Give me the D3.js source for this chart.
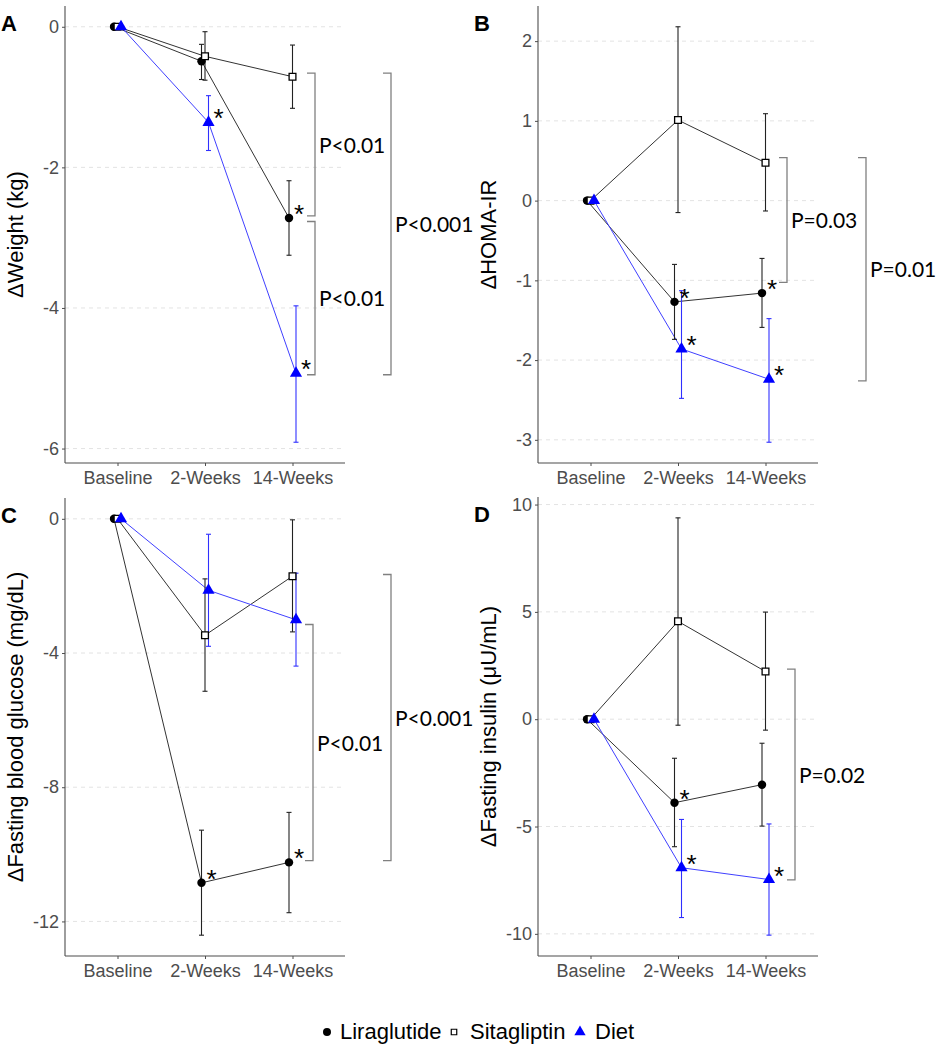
<!DOCTYPE html>
<html><head><meta charset="utf-8">
<script src="https://cdn.jsdelivr.net/npm/d3@7"></script>
<style>body{margin:0;background:#fff} svg{display:block}</style>
</head><body><svg id="c" width="947" height="1050"></svg>
<script>
// ---------- DATA ----------
const categories = ["Baseline", "2-Weeks", "14-Weeks"];
const seriesNames = ["Liraglutide", "Sitagliptin", "Diet"];

// Panel A: ΔWeight (kg)
const weightLiraMean = [0, -0.49, -2.72], weightLiraLow = [0, -0.75, -3.25], weightLiraHigh = [0, -0.25, -2.19];
const weightSitaMean = [0, -0.42, -0.71], weightSitaLow = [0, -0.76, -1.16], weightSitaHigh = [0, -0.07, -0.26];
const weightDietMean = [0, -1.36, -4.93], weightDietLow = [0, -1.76, -5.91], weightDietHigh = [0, -0.98, -3.97];
const weightTicks = [0, -2, -4, -6];
const weightStars = [[2], [], [1, 2]];
const weightBrackets = [
  { from: -0.66, to: -2.69, label: "P<0.01", level: 0 },
  { from: -2.77, to: -4.95, label: "P<0.01", level: 0 },
  { from: -0.66, to: -4.95, label: "P<0.001", level: 1 }
];

// Panel B: ΔHOMA-IR
const homaLiraMean = [0, -1.27, -1.16], homaLiraLow = [0, -1.74, -1.59], homaLiraHigh = [0, -0.80, -0.725];
const homaSitaMean = [0, 1.01, 0.475], homaSitaLow = [0, -0.15, -0.13], homaSitaHigh = [0, 2.18, 1.09];
const homaDietMean = [0, -1.86, -2.24], homaDietLow = [0, -2.48, -3.03], homaDietHigh = [0, -1.13, -1.48];
const homaTicks = [2, 1, 0, -1, -2, -3];
const homaStars = [[1, 2], [], [1, 2]];
const homaBrackets = [
  { from: 0.54, to: -1.025, label: "P=0.03", level: 0 },
  { from: 0.54, to: -2.26, label: "P=0.01", level: 1 }
];

// Panel C: ΔFasting blood glucose (mg/dL)
const glucLiraMean = [0, -10.85, -10.24], glucLiraLow = [0, -12.41, -11.74], glucLiraHigh = [0, -9.28, -8.75];
const glucSitaMean = [0, -3.47, -1.71], glucSitaLow = [0, -5.14, -3.37], glucSitaHigh = [0, -1.79, -0.03];
const glucDietMean = [0, -2.13, -3.01], glucDietLow = [0, -3.80, -4.39], glucDietHigh = [0, -0.46, -1.62];
const glucTicks = [0, -4, -8, -12];
const glucStars = [[1, 2], [], []];
const glucBrackets = [
  { from: -3.15, to: -10.19, label: "P<0.01", level: 0 },
  { from: -1.66, to: -10.19, label: "P<0.001", level: 1 }
];

// Panel D: ΔFasting insulin (μU/mL)
const insLiraMean = [0, -3.89, -3.05], insLiraLow = [0, -5.94, -4.98], insLiraHigh = [0, -1.82, -1.12];
const insSitaMean = [0, 4.56, 2.22], insSitaLow = [0, -0.28, -0.51], insSitaHigh = [0, 9.38, 4.99];
const insDietMean = [0, -6.92, -7.47], insDietLow = [0, -9.24, -10.06], insDietHigh = [0, -4.67, -4.88];
const insTicks = [10, 5, 0, -5, -10];
const insStars = [[1], [], [1, 2]];
const insBrackets = [
  { from: 2.33, to: -7.49, label: "P=0.02", level: 0 }
];

// ---------- LAYOUT / STYLE ----------
const W = 280;
const seriesColor = ["#000000", "#000000", "#0000ff"];
const lineColor = ["#333333", "#333333", "#4040ff"];
const dodge = [-0.04, 0, 0.04];
const tickFont = "'Liberation Sans', Arial, sans-serif";
const annFont = "Lato, 'Liberation Sans', sans-serif";

const panels = [
  { letter: "A", x0: 65, y0: 6, y1: 463, title: "ΔWeight (kg)",
    mean: [weightLiraMean, weightSitaMean, weightDietMean], low: [weightLiraLow, weightSitaLow, weightDietLow],
    high: [weightLiraHigh, weightSitaHigh, weightDietHigh], ticks: weightTicks, stars: weightStars,
    brackets: weightBrackets, bx: [250, 326] },
  { letter: "B", x0: 538, y0: 6, y1: 463, title: "ΔHOMA-IR",
    mean: [homaLiraMean, homaSitaMean, homaDietMean], low: [homaLiraLow, homaSitaLow, homaDietLow],
    high: [homaLiraHigh, homaSitaHigh, homaDietHigh], ticks: homaTicks, stars: homaStars,
    brackets: homaBrackets, bx: [249, 328] },
  { letter: "C", x0: 65, y0: 498, y1: 956, title: "ΔFasting blood glucose (mg/dL)",
    mean: [glucLiraMean, glucSitaMean, glucDietMean], low: [glucLiraLow, glucSitaLow, glucDietLow],
    high: [glucLiraHigh, glucSitaHigh, glucDietHigh], ticks: glucTicks, stars: glucStars,
    brackets: glucBrackets, bx: [248, 326] },
  { letter: "D", x0: 538, y0: 497, y1: 956, title: "ΔFasting insulin (μU/mL)",
    mean: [insLiraMean, insSitaMean, insDietMean], low: [insLiraLow, insSitaLow, insDietLow],
    high: [insLiraHigh, insSitaHigh, insDietHigh], ticks: insTicks, stars: insStars,
    brackets: insBrackets, bx: [257, 330] }
];

const svg = d3.select("#c");

const symCircle = d3.symbol(d3.symbolCircle, 56);
const symSquare = d3.symbol(d3.symbolSquare, 46);
const symTri = d3.symbol(d3.symbolTriangle, 64);
const symbols = [symCircle, symSquare, symTri];

panels.forEach(p => {
  const g = svg.append("g");
  const x = d3.scalePoint().domain(categories).range([p.x0, p.x0 + W]).padding(0.6);
  const step = x.step();
  const allVals = [].concat(...p.low, ...p.high, ...p.mean);
  const [mn, mx] = d3.extent(allVals);
  const ex = (mx - mn) * 0.05;
  const y = d3.scaleLinear().domain([mn - ex, mx + ex]).range([p.y1, p.y0]);

  // grid
  g.append("g").selectAll("line").data(p.ticks).join("line")
    .attr("x1", p.x0).attr("x2", p.x0 + W - 2)
    .attr("y1", d => y(d)).attr("y2", d => y(d))
    .attr("stroke", "#e3e3e3").attr("stroke-width", 1).attr("stroke-dasharray", "4,4");

  // axes
  const ya = g.append("g").attr("transform", `translate(${p.x0},0)`)
    .call(d3.axisLeft(y).tickValues(p.ticks).tickSize(3).tickPadding(3).tickFormat(d => String(d).replace("−", "-")));
  const xa = g.append("g").attr("transform", `translate(0,${p.y1})`)
    .call(d3.axisBottom(x).tickSize(3).tickPadding(5));
  [ya, xa].forEach(a => {
    a.select(".domain").remove();
    a.selectAll("line").attr("stroke", "#4d4d4d");
    a.selectAll("text").attr("fill", "#4d4d4d").style("font-family", tickFont).style("font-size", "18px");
  });
  g.append("line").attr("x1", p.x0).attr("x2", p.x0).attr("y1", p.y0).attr("y2", p.y1)
    .attr("stroke", "#4d4d4d").attr("stroke-width", 1.1);
  g.append("line").attr("x1", p.x0).attr("x2", p.x0 + W).attr("y1", p.y1).attr("y2", p.y1)
    .attr("stroke", "#4d4d4d").attr("stroke-width", 1.1);

  // y title
  g.append("text").attr("transform", `translate(${p.x0 - 42},${(p.y0 + p.y1) / 2}) rotate(-90)`)
    .attr("text-anchor", "middle").style("font-family", tickFont).style("font-size", "22px")
    .attr("fill", "#000").text(p.title);

  // panel letter
  g.append("text").attr("x", p.x0 - 64).attr("y", p.y0 + 25)
    .style("font-family", tickFont).style("font-weight", "bold").style("font-size", "22px").text(p.letter);

  const px = (s, i) => x(categories[i]) + dodge[s] * step;

  // lines
  [0, 1, 2].forEach(s => {
    const line = d3.line().x((d, i) => px(s, i)).y(d => y(d));
    g.append("path").attr("d", line(p.mean[s])).attr("fill", "none")
      .attr("stroke", lineColor[s]).attr("stroke-width", 1);
  });

  // error bars
  [0, 1, 2].forEach(s => {
    const idx = [1, 2];
    const eg = g.append("g").attr("stroke", seriesColor[s] === "#000000" ? "#222" : "#3030ff").attr("stroke-width", 1.1);
    idx.forEach(i => {
      const cx = px(s, i);
      eg.append("line").attr("x1", cx).attr("x2", cx).attr("y1", y(p.low[s][i])).attr("y2", y(p.high[s][i]));
      [p.low[s][i], p.high[s][i]].forEach(v => {
        eg.append("line").attr("x1", cx - 2.5).attr("x2", cx + 2.5).attr("y1", y(v)).attr("y2", y(v));
      });
    });
  });

  // points
  [0, 1, 2].forEach(s => {
    p.mean[s].forEach((v, i) => {
      const pt = g.append("path").attr("d", symbols[s]())
        .attr("transform", `translate(${px(s, i)},${y(v)})`);
      if (s === 1) pt.attr("fill", "#fff").attr("stroke", "#000").attr("stroke-width", 1.3);
      else pt.attr("fill", seriesColor[s]);
    });
  });

  // asterisks
  [0, 1, 2].forEach(s => {
    p.stars[s].forEach(i => {
      g.append("text").attr("x", px(s, i) + 5).attr("y", y(p.mean[s][i]) + 5)
        .style("font-family", tickFont).style("font-size", "26px").attr("fill", "#000").text("*");
    });
  });

  // brackets
  p.brackets.forEach(b => {
    const bx = p.x0 + p.bx[b.level];
    const tk = 8;
    const y1 = y(b.from), y2 = y(b.to);
    g.append("path").attr("d", `M${bx - tk},${y1}H${bx}V${y2}H${bx - tk}`)
      .attr("fill", "none").attr("stroke", "#808080").attr("stroke-width", 1.3);
    g.append("text").attr("x", bx + 4).attr("y", (y1 + y2) / 2 + 8)
      .style("font-family", annFont).style("font-size", "21px").attr("fill", "#000").text(b.label);
  });
});

// legend
const legend = svg.append("g");
const legItems = [
  { tx: 340, mx: 327 },
  { tx: 470, mx: 454 },
  { tx: 595, mx: 580 }
];
seriesNames.forEach((name, s) => {
  const it = legItems[s];
  const m = legend.append("path")
    .attr("d", d3.symbol(s === 0 ? d3.symbolCircle : s === 1 ? d3.symbolSquare : d3.symbolTriangle, s === 0 ? 50 : s === 1 ? 30 : 55)())
    .attr("transform", `translate(${it.mx},1032)`);
  if (s === 1) m.attr("fill", "#fff").attr("stroke", "#000").attr("stroke-width", 1.2);
  else m.attr("fill", seriesColor[s]);
  legend.append("text").attr("x", it.tx).attr("y", 1039)
    .style("font-family", tickFont).style("font-size", "22px").attr("fill", "#000").text(name);
});
</script></body></html>
